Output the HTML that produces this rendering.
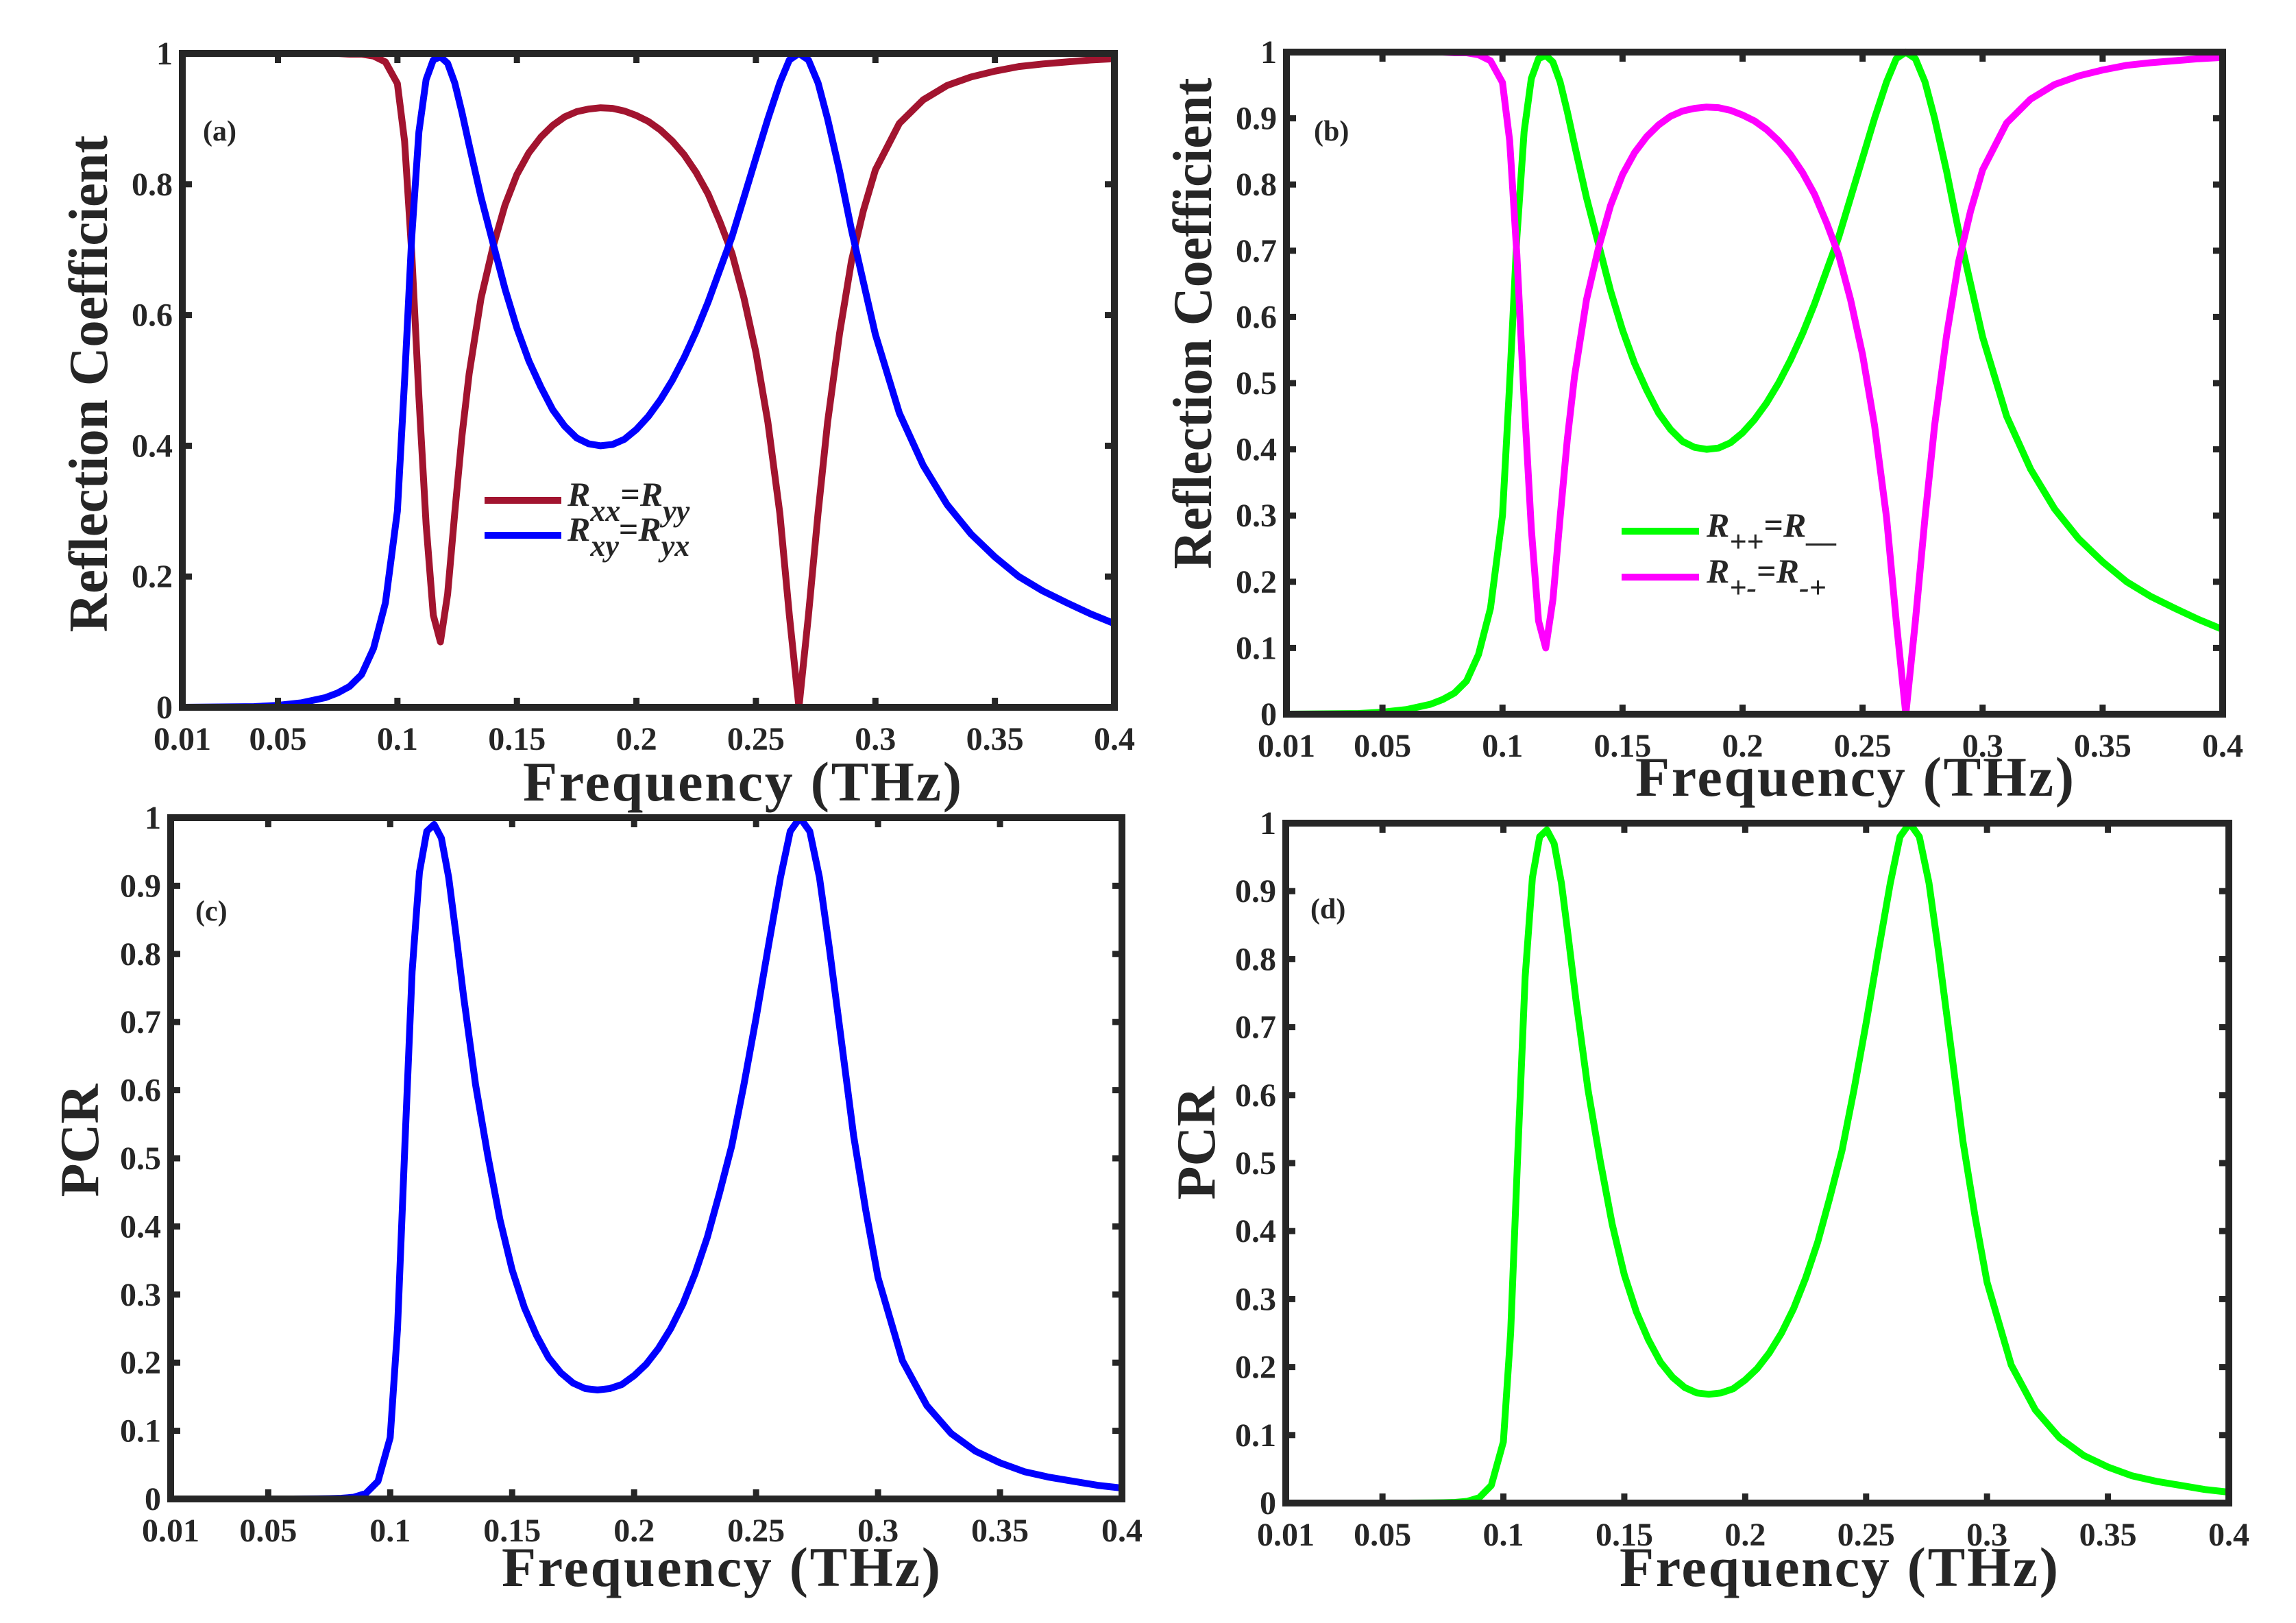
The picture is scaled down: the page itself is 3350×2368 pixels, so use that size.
<!DOCTYPE html>
<html><head><meta charset="utf-8">
<style>
html,body{margin:0;padding:0;background:#fff;}
svg{display:block;}
text{font-family:"Liberation Serif",serif;font-weight:bold;fill:#262626;}
</style></head>
<body>
<svg id="fig" width="3350" height="2368" viewBox="0 0 3350 2368" xmlns="http://www.w3.org/2000/svg"></svg>
<script>
const freq=[0.01,0.04,0.05,0.06,0.07,0.075,0.08,0.085,0.09,0.095,0.1,0.103,0.106,0.109,0.112,0.115,0.118,0.121,0.124,0.127,0.13,0.135,0.14,0.145,0.15,0.155,0.16,0.165,0.17,0.175,0.18,0.185,0.19,0.195,0.2,0.205,0.21,0.215,0.22,0.225,0.23,0.235,0.24,0.245,0.25,0.255,0.26,0.264,0.268,0.272,0.276,0.28,0.285,0.29,0.295,0.3,0.31,0.32,0.33,0.34,0.35,0.36,0.37,0.38,0.39,0.4];
const rxy=[0,0.001,0.003,0.007,0.015,0.022,0.032,0.05,0.09,0.16,0.3,0.5,0.72,0.88,0.96,0.99,0.995,0.985,0.955,0.91,0.86,0.78,0.71,0.64,0.58,0.53,0.49,0.455,0.43,0.412,0.403,0.4,0.402,0.41,0.425,0.445,0.47,0.5,0.535,0.575,0.62,0.67,0.72,0.78,0.84,0.9,0.955,0.99,1.0,0.99,0.955,0.9,0.82,0.73,0.65,0.57,0.45,0.37,0.31,0.265,0.23,0.2,0.178,0.16,0.143,0.128];
const rxx=[1,1,1,1,1,1,0.999,0.999,0.996,0.987,0.954,0.866,0.694,0.475,0.28,0.141,0.1,0.173,0.297,0.415,0.51,0.626,0.704,0.768,0.815,0.848,0.872,0.89,0.903,0.911,0.915,0.917,0.916,0.912,0.905,0.896,0.883,0.866,0.845,0.818,0.785,0.742,0.694,0.626,0.543,0.436,0.297,0.141,0.0,0.141,0.297,0.436,0.572,0.683,0.76,0.822,0.893,0.929,0.951,0.964,0.973,0.98,0.984,0.987,0.99,0.992];
const pcr=[0,0,0,0,0.0002,0.0005,0.001,0.0025,0.008,0.026,0.09,0.25,0.518,0.774,0.92,0.98,0.99,0.97,0.912,0.828,0.74,0.608,0.504,0.41,0.336,0.281,0.24,0.207,0.185,0.17,0.162,0.16,0.162,0.168,0.181,0.198,0.221,0.25,0.286,0.331,0.384,0.449,0.518,0.608,0.706,0.81,0.912,0.98,1.0,0.98,0.912,0.81,0.672,0.533,0.423,0.325,0.203,0.137,0.096,0.07,0.053,0.04,0.032,0.026,0.02,0.016];
const xTicks=[0.01,0.05,0.1,0.15,0.2,0.25,0.3,0.35,0.4];
const xTickLabels=["0.01","0.05","0.1","0.15","0.2","0.25","0.3","0.35","0.4"];
const yTicksA=[0,0.2,0.4,0.6,0.8,1];
const yTickLabelsA=["0","0.2","0.4","0.6","0.8","1"];
const yTicksB=[0,0.1,0.2,0.3,0.4,0.5,0.6,0.7,0.8,0.9,1];
const yTickLabelsB=["0","0.1","0.2","0.3","0.4","0.5","0.6","0.7","0.8","0.9","1"];

const NS="http://www.w3.org/2000/svg";
const svg=document.getElementById('fig');
function mk(tag,attrs,parent){const e=document.createElementNS(NS,tag);for(const k in attrs)e.setAttribute(k,attrs[k]);(parent||svg).appendChild(e);return e;}

const panels=[
 {id:'a',L:266,R:1626,T:78,B:1032,yt:yTicksA,yl:yTickLabelsA,ylab:'Reflection Coefficient',ylx:129,yly:560,ylw:725,
  xlx:1083,xly:1168,tag:[296,205],series:[[rxx,'#a2142f','rxx'],[rxy,'#0000ff','rxy']],
  legend:{x1:707,x2:819,y:[730,781],tx:828,items:[['xx','yy'],['xy','yx']]}},
 {id:'b',L:1877,R:3243,T:76,B:1042,yt:yTicksB,yl:yTickLabelsB,ylab:'Reflection Coefficient',ylx:1740,yly:472,ylw:717,
  xlx:2706,xly:1161,tag:[1917,205],series:[[rxy,'#00ff00','rpp'],[rxx,'#ff00ff','rpm']],
  legend:{x1:2366,x2:2479,y:[775,842],tx:2490,items:[['++','\u2013\u2013'],['+-','-+']]}},
 {id:'c',L:249,R:1637,T:1193,B:2187,yt:yTicksB,yl:yTickLabelsB,ylab:'PCR',ylx:116,yly:1664,ylw:165,
  xlx:1052,xly:2314,tag:[285,1343],series:[[pcr,'#0000ff','pcr']]},
 {id:'d',L:1876,R:3252,T:1201,B:2193,yt:yTicksB,yl:yTickLabelsB,ylab:'PCR',ylx:1745,yly:1668,ylw:165,
  xlx:2683,xly:2314,tag:[1912,1340],series:[[pcr,'#00ff00','pcr']]}
];

panels.forEach(p=>{
  const g=mk('g',{});
  
  
  const sx=v=>p.L+(v-0.01)/(0.4-0.01)*(p.R-p.L);
  const sy=v=>p.B-v*(p.B-p.T);
  p.series.forEach(s=>{
    let d='';
    freq.forEach((f,i)=>{d+=(i?'L':'M')+sx(f).toFixed(1)+' '+sy(s[0][i]).toFixed(1);});
    const path=mk('path',{d:d,fill:'none',stroke:s[1],'stroke-width':10,'stroke-linejoin':'round'},g);
    
    
  });
  const fr=mk('rect',{x:p.L,y:p.T,width:p.R-p.L,height:p.B-p.T,fill:'none',stroke:'#262626','stroke-width':10},g);
  
  
  xTicks.forEach((t,i)=>{
    const x=sx(t);
    mk('line',{x1:x,y1:p.B,x2:x,y2:p.B-14,stroke:'#262626','stroke-width':9},g);
    mk('line',{x1:x,y1:p.T,x2:x,y2:p.T+14,stroke:'#262626','stroke-width':9},g);
    const tx=mk('text',{x:x,y:p.B+62,'font-size':48,'text-anchor':'middle'},g);
    tx.textContent=xTickLabels[i];
    
    
  });
  p.yt.forEach((t,i)=>{
    const y=sy(t);
    mk('line',{x1:p.L,y1:y,x2:p.L+14,y2:y,stroke:'#262626','stroke-width':9},g);
    mk('line',{x1:p.R,y1:y,x2:p.R-14,y2:y,stroke:'#262626','stroke-width':9},g);
    const tx=mk('text',{x:p.L-14,y:y+16,'font-size':48,'text-anchor':'end'},g);
    tx.textContent=p.yl[i];
    
    
  });
  const xl=mk('text',{x:p.xlx,y:p.xly,'font-size':82,'text-anchor':'middle',textLength:640,lengthAdjust:'spacing'},g);
  xl.textContent='Frequency (THz)';
  
  
  const yl=mk('text',{x:0,y:0,'font-size':80,'text-anchor':'middle',textLength:p.ylw,lengthAdjust:'spacingAndGlyphs',transform:'translate('+(p.ylx+27)+','+p.yly+') rotate(-90)'},g);
  yl.textContent=p.ylab;
  
  
  const tg=mk('text',{x:p.tag[0],y:p.tag[1],'font-size':42},g);
  tg.textContent='('+p.id+')';
  
  
  if(p.legend){
    const lg=p.legend;
    p.series.forEach((s,i)=>{
      const y=lg.y[i];
      const ln=mk('line',{x1:lg.x1,y1:y,x2:lg.x2,y2:y,stroke:s[1],'stroke-width':10},g);
      
      
      const t=mk('text',{x:lg.tx,y:y+8,'font-size':50,'font-style':'italic'},g);
      
      
      const it=lg.items[i];
      t.innerHTML='R<tspan dy="22" font-size="44">'+it[0]+'</tspan><tspan dy="-22" font-style="normal">=</tspan>R<tspan dy="22" font-size="44">'+it[1]+'</tspan>';
    });
  }
});
</script>
</body></html>
